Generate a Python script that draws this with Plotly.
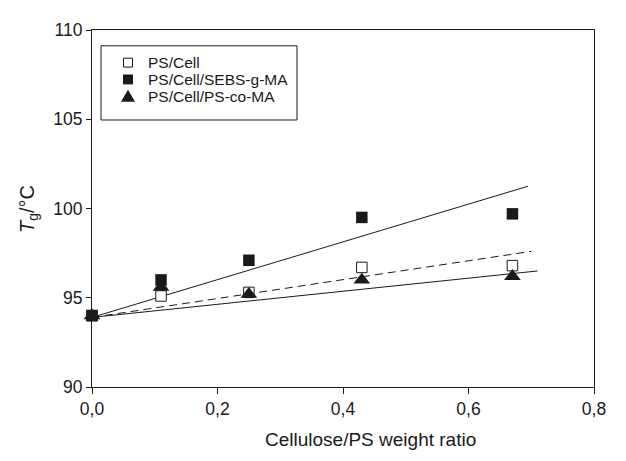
import plotly.graph_objects as go

# ---- data ----
ratio = [0.0, 0.11, 0.25, 0.43, 0.67]
tg_ps_cell = [94.0, 95.1, 95.3, 96.7, 96.8]
tg_sebs = [94.0, 96.0, 97.1, 99.5, 99.7]
tg_psco = [94.0, 95.6, 95.2, 96.0, 96.2]

# fitted trend lines (start / end)
fit_sebs_x = [0.0, 0.695]
fit_sebs_y = [93.9, 101.25]
fit_pscell_x = [0.0, 0.70]
fit_pscell_y = [93.9, 97.6]
fit_psco_x = [0.0, 0.71]
fit_psco_y = [93.9, 96.5]

series_names = ["PS/Cell", "PS/Cell/SEBS-g-MA", "PS/Cell/PS-co-MA"]
x_ticks = [0.0, 0.2, 0.4, 0.6, 0.8]
y_ticks = [90, 95, 100, 105, 110]

FONT = "Liberation Sans, Arial, sans-serif"
INK = "#1a1a1a"

W, H = 626, 461
PL, PR, PT, PB = 84, 40, 18, 82
pw = W - PL - PR
ph = H - PT - PB


def px_x(p):
    return (p - PL) / pw


def px_y(p):
    return (H - PB - p) / ph


fig = go.Figure()

# fit lines
for fx, fy, dash in [(fit_sebs_x, fit_sebs_y, "solid"),
                     (fit_pscell_x, fit_pscell_y, "8px,5px"),
                     (fit_psco_x, fit_psco_y, "solid")]:
    fig.add_trace(go.Scatter(x=fx, y=fy, mode="lines", showlegend=False,
                             line=dict(color=INK, width=1, dash=dash),
                             hoverinfo="skip"))

fig.add_trace(go.Scatter(x=ratio, y=tg_ps_cell, mode="markers", name=series_names[0],
                         showlegend=False,
                         marker=dict(symbol="square", size=10.5, color="white",
                                     line=dict(color=INK, width=1)),
                         cliponaxis=False))
fig.add_trace(go.Scatter(x=ratio, y=tg_sebs, mode="markers", name=series_names[1],
                         showlegend=False,
                         marker=dict(symbol="square", size=11.5, color=INK,
                                     line=dict(color=INK, width=0)),
                         cliponaxis=False))
fig.add_trace(go.Scatter(x=ratio, y=tg_psco, mode="markers", name=series_names[2],
                         showlegend=False,
                         marker=dict(symbol="triangle-up", size=14.5, color=INK,
                                     line=dict(color=INK, width=0)),
                         cliponaxis=False))

# ---- legend (box, keys, labels) ----
LEG_L, LEG_R, LEG_T, LEG_B = 93, 289, 34, 109
KEY_X, TXT_X = 120, 138
ROWS = [51, 68, 85]

shapes = [dict(type="rect", xref="paper", yref="paper",
               x0=px_x(LEG_L), x1=px_x(LEG_R), y0=px_y(LEG_B), y1=px_y(LEG_T),
               line=dict(color=INK, width=1), fillcolor="rgba(0,0,0,0)")]
# open square key
shapes.append(dict(type="rect", xref="paper", yref="paper",
                   x0=px_x(KEY_X - 4.5), x1=px_x(KEY_X + 4.5),
                   y0=px_y(ROWS[0] + 4.5), y1=px_y(ROWS[0] - 4.5),
                   line=dict(color=INK, width=1), fillcolor="white"))
# filled square key
shapes.append(dict(type="rect", xref="paper", yref="paper",
                   x0=px_x(KEY_X - 5), x1=px_x(KEY_X + 5),
                   y0=px_y(ROWS[1] + 5), y1=px_y(ROWS[1] - 5),
                   line=dict(color=INK, width=0), fillcolor=INK))
# triangle key
tx = [px_x(KEY_X - 7), px_x(KEY_X + 7), px_x(KEY_X)]
ty = [px_y(ROWS[2] + 5.5), px_y(ROWS[2] + 5.5), px_y(ROWS[2] - 6.5)]
shapes.append(dict(type="path", xref="paper", yref="paper",
                   path=f"M {tx[0]},{ty[0]} L {tx[1]},{ty[1]} L {tx[2]},{ty[2]} Z",
                   line=dict(color=INK, width=0), fillcolor=INK))

annotations = []
for name, row in zip(series_names, ROWS):
    annotations.append(dict(text=name, xref="paper", yref="paper",
                            x=px_x(TXT_X), y=px_y(row), xanchor="left",
                            yanchor="middle", showarrow=False,
                            font=dict(family=FONT, size=15.5, color=INK)))

annotations += [
    dict(text="Cellulose/PS weight ratio", xref="paper", yref="paper",
         x=px_x(362), y=px_y(432), xanchor="center", yanchor="middle",
         showarrow=False, font=dict(family=FONT, size=19, color=INK)),
    dict(text="<i>T</i><sub>g</sub>/°C", xref="paper", yref="paper",
         x=px_x(21), y=px_y(199), xanchor="center", yanchor="middle",
         textangle=-90, showarrow=False,
         font=dict(family=FONT, size=20, color=INK)),
]

fig.update_layout(
    width=W, height=H, autosize=False,
    margin=dict(l=PL, r=PR, t=PT, b=PB),
    paper_bgcolor="white", plot_bgcolor="white",
    font=dict(family=FONT, size=17.5, color=INK),
    separators=",.",
    showlegend=False,
    shapes=shapes,
    annotations=annotations,
)

fig.update_xaxes(range=[0, 0.8], tickvals=x_ticks, tickformat=".1f",
                 showgrid=False, zeroline=False, showline=True, mirror=True,
                 linecolor=INK, linewidth=1, ticks="outside", ticklen=6,
                 tickcolor=INK, tickfont=dict(size=17.5))
fig.update_yaxes(range=[90, 110], tickvals=y_ticks,
                 showgrid=False, zeroline=False, showline=True, mirror=True,
                 linecolor=INK, linewidth=1, ticks="outside", ticklen=5,
                 tickcolor=INK, tickfont=dict(size=17.5))

fig.write_html("out.html")
